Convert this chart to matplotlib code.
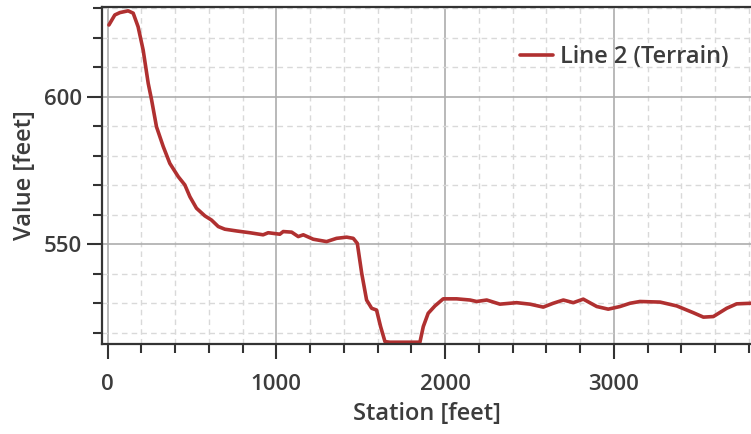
import matplotlib.pyplot as plt
from matplotlib.ticker import MultipleLocator

# terrain profile
station = [8, 43, 73, 122, 152, 181, 211, 241, 261, 290, 330, 369, 419, 458,
           488, 527, 577, 616, 656, 695, 765, 843, 922, 952, 1021, 1041, 1091,
           1130, 1160, 1219, 1298, 1357, 1417, 1456, 1480, 1506, 1535, 1565,
           1594, 1618, 1644, 1673, 1851, 1871, 1900, 1940, 1989, 2069, 2148,
           2187, 2247, 2325, 2424, 2503, 2582, 2641, 2701, 2760, 2819, 2899,
           2967, 3037, 3096, 3155, 3274, 3373, 3471, 3531, 3590, 3669, 3728,
           3813]
value = [624.3, 627.7, 628.5, 629.1, 628.3, 623.7, 615.8, 604.5, 598.9,
         589.8, 583.1, 577.4, 572.9, 570.1, 566.1, 562.2, 559.6, 558.2, 556.0,
         555.1, 554.5, 553.9, 553.2, 553.9, 553.4, 554.3, 554.1, 552.6, 553.2,
         551.7, 550.9, 552.0, 552.4, 552.0, 550.3, 540.2, 531.1, 528.3, 527.7,
         522.1, 517.0, 516.8, 516.8, 522.1, 526.6, 529.1, 531.5, 531.5, 531.1,
         530.6, 531.1, 529.7, 530.2, 529.7, 528.7, 530.0, 531.1, 530.2, 531.4,
         528.9, 528.0, 528.9, 530.0, 530.6, 530.4, 529.1, 526.8, 525.3, 525.5,
         528.3, 529.8, 530.0]

plt.rcParams["font.family"] = ["Open Sans", "DejaVu Sans"]
plt.rcParams["font.weight"] = "semibold"
txt = "#3c3c3c"

fig = plt.figure(figsize=(7.51, 4.34), dpi=100)
ax = fig.add_axes([0.1358, 0.2074, 0.8642, 0.7765])

ax.plot(station, value, color="#b03030", lw=2.6, label="Line 2 (Terrain)",
        solid_joinstyle="round", solid_capstyle="round", clip_on=False)

ax.set_xlim(-33, 3813)
ax.set_ylim(516.2, 630.4)

ax.xaxis.set_major_locator(MultipleLocator(1000))
ax.xaxis.set_minor_locator(MultipleLocator(200))
ax.yaxis.set_major_locator(MultipleLocator(50))
ax.yaxis.set_minor_locator(MultipleLocator(10))

ax.grid(which="major", color="#adadad", lw=1.2, ls="-")
ax.grid(which="minor", color="#d9d9d9", lw=1.0, ls=(0, (4, 3)))
ax.set_axisbelow(True)

for s in ["left", "bottom", "top"]:
    ax.spines[s].set_color("#333333")
    ax.spines[s].set_linewidth(1.6)
ax.spines["right"].set_visible(False)

ax.tick_params(which="major", direction="out", length=10.5, width=1.5,
               color="#333333", labelsize=16, labelcolor=txt)
ax.tick_params(which="minor", direction="out", length=6.5, width=1.5,
               color="#333333")
ax.tick_params(axis="x", which="major", pad=11)
ax.tick_params(axis="y", which="major", pad=4)

ax.set_xlabel("Station [feet]", fontsize=17, color=txt, fontweight="semibold",
              labelpad=5)
ax.set_ylabel("Value [feet]", fontsize=17, color=txt, fontweight="semibold",
              labelpad=5)

ax.legend(loc="center left", bbox_to_anchor=(0.6924, 0.8687),
          bbox_transform=fig.transFigure, frameon=False, fontsize=17,
          handlelength=1.4, handletextpad=0.3, borderpad=0, borderaxespad=0,
          labelcolor=txt)

fig.savefig("out.png", dpi=100)
